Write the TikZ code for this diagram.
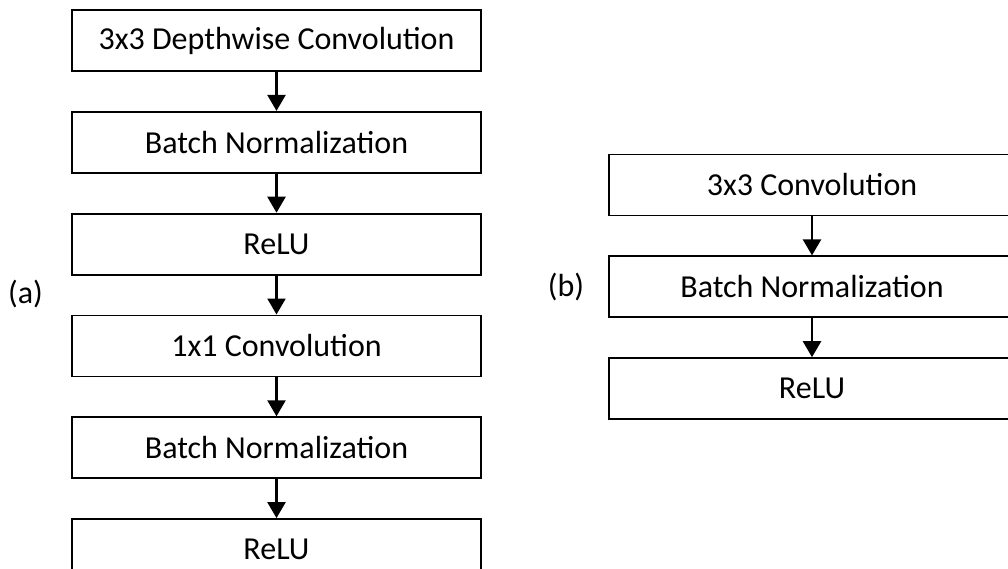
\documentclass[tikz,border=0pt]{standalone}
\usepackage{fontspec}
\setmainfont{Carlito}
\usepackage{tikz}
\usetikzlibrary{positioning,arrows.meta}

\tikzset{
  layerbox/.style={draw, line width=1.8pt, rectangle, minimum width=409pt,
    minimum height=61pt, inner sep=0pt},
  flow/.style={line width=2.4pt, -{Triangle[width=18pt,length=16pt]}},
}

\begin{document}
\begin{tikzpicture}[x=1pt, y=-1pt, font=\fontsize{32}{38}\selectfont]
\useasboundingbox (0,0) rectangle (1008,568);
% ---- (a): depthwise separable block ----
\node[layerbox] (dwconv) at (276.5,40.5) {3x3 Depthwise Convolution};
\node[layerbox, below=39pt of dwconv] (bn1) {Batch Normalization};
\node[layerbox, below=39pt of bn1] (relu1) {ReLU};
\node[layerbox, below=39pt of relu1] (pwconv) {1x1 Convolution};
\node[layerbox, below=39pt of pwconv] (bn2) {Batch Normalization};
\node[layerbox, below=39pt of bn2] (relu2) {ReLU};
\draw[flow] (dwconv) -- (bn1);
\draw[flow] (bn1) -- (relu1);
\draw[flow] (relu1) -- (pwconv);
\draw[flow] (pwconv) -- (bn2);
\draw[flow] (bn2) -- (relu2);
\node (lbla) at (25.5,294) {(a)};
% ---- (b): standard convolution block ----
\node[layerbox, minimum width=406pt] (conv) at (812,185) {3x3 Convolution};
\node[layerbox, minimum width=406pt, below=39pt of conv] (bn) {Batch Normalization};
\node[layerbox, minimum width=406pt, below=39pt of bn] (relu) {ReLU};
\draw[flow] (conv) -- (bn);
\draw[flow] (bn) -- (relu);
\node (lblb) at (566,287) {(b)};
\end{tikzpicture}
\end{document}
